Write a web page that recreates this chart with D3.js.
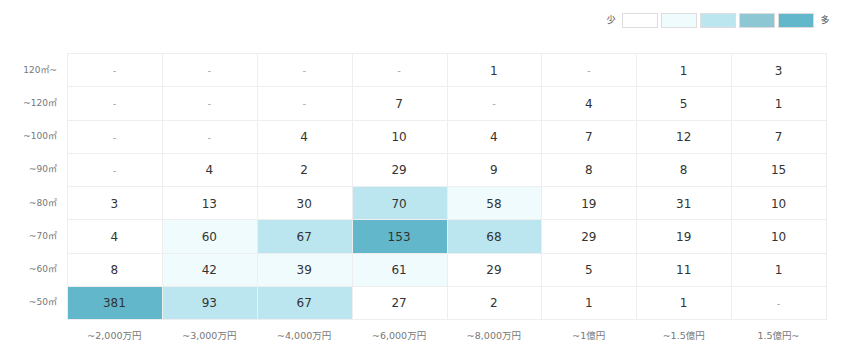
<!DOCTYPE html>
<html><head><meta charset="utf-8">
<script src="https://cdn.jsdelivr.net/npm/d3@7"></script>
<style>body{margin:0;background:#fff}svg{display:block}text{font-family:"DejaVu Sans","Noto Sans CJK JP",sans-serif}</style>
</head><body><svg id="c" width="848" height="360"></svg>
<script>
const priceCats = ["~2,000万円","~3,000万円","~4,000万円","~6,000万円","~8,000万円","~1億円","~1.5億円","1.5億円~"];
const areaCats = ["120㎡~","~120㎡","~100㎡","~90㎡","~80㎡","~70㎡","~60㎡","~50㎡"];
// values[row][col], null = "-"
const values = [
  [null,null,null,null,1,null,1,3],
  [null,null,null,7,null,4,5,1],
  [null,null,4,10,4,7,12,7],
  [null,4,2,29,9,8,8,15],
  [3,13,30,70,58,19,31,10],
  [4,60,67,153,68,29,19,10],
  [8,42,39,61,29,5,11,1],
  [381,93,67,27,2,1,1,null]
];
const legendColors = ["#ffffff","#f0fbfe","#bce6ef","#8ec7d4","#62b7cb"];
const thresholds = [35,65,120,150];

const svg = d3.select("#c");
const x = d3.scaleBand().domain(priceCats).range([67,826]).padding(0);
const y = d3.scaleBand().domain(areaCats).range([53,319]).padding(0);
const color = d3.scaleThreshold().domain(thresholds).range(legendColors);

const cells = [];
values.forEach((row,i)=>row.forEach((v,j)=>cells.push({r:areaCats[i],c:priceCats[j],v})));

// grid lines
const g = svg.append("g").attr("stroke","#eeeeee").attr("stroke-width",1);
priceCats.concat([null]).forEach((c)=>{
  const xx = Math.round(c==null?826:x(c))+0.5;
  g.append("line").attr("x1",xx).attr("x2",xx).attr("y1",53).attr("y2",320);
});
areaCats.concat([null]).forEach((r)=>{
  const yy = Math.round(r==null?319:y(r))+0.5;
  g.append("line").attr("x1",67).attr("x2",827).attr("y1",yy).attr("y2",yy);
});
// colored cells (white separators between neighbours)
svg.append("g").selectAll("rect").data(cells.filter(d=>d.v!=null&&d.v>thresholds[0])).join("rect")
  .attr("x",d=>Math.round(x(d.c))+1).attr("y",d=>Math.round(y(d.r))+1)
  .attr("width",d=>Math.round(x(d.c)+x.bandwidth())-Math.round(x(d.c))-1)
  .attr("height",d=>Math.round(y(d.r)+y.bandwidth())-Math.round(y(d.r))-1)
  .attr("fill",d=>color(d.v));

svg.append("g").selectAll("text").data(cells).join("text")
  .attr("x",d=>x(d.c)+x.bandwidth()/2).attr("y",d=>y(d.r)+y.bandwidth()/2+1)
  .attr("text-anchor","middle").attr("dominant-baseline","central")
  .attr("font-size",d=>d.v==null?10:12).attr("fill",d=>d.v==null?"#aaa":"#333")
  .text(d=>d.v==null?"-":d.v);

// axes labels
svg.append("g").selectAll("text").data(areaCats).join("text")
  .attr("x",57).attr("y",d=>y(d)+y.bandwidth()/2).attr("text-anchor","end")
  .attr("dominant-baseline","central").attr("font-size",9).attr("fill","#777").text(d=>d);
svg.append("g").selectAll("text").data(priceCats).join("text")
  .attr("x",d=>x(d)+x.bandwidth()/2).attr("y",335).attr("text-anchor","middle")
  .attr("dominant-baseline","central").attr("font-size",9.5).attr("fill","#777").text(d=>d);

// legend
const lg = svg.append("g");
lg.append("text").attr("x",611).attr("y",20).attr("text-anchor","middle").attr("dominant-baseline","central")
  .attr("font-size",9).attr("fill","#555").text("少");
lg.selectAll("rect").data(legendColors).join("rect")
  .attr("x",(d,i)=>622.5+i*39).attr("y",13.5).attr("width",35).attr("height",14)
  .attr("fill",d=>d).attr("stroke","#dddddd");
lg.append("text").attr("x",825).attr("y",20).attr("text-anchor","middle").attr("dominant-baseline","central")
  .attr("font-size",9).attr("fill","#555").text("多");
</script></body></html>
